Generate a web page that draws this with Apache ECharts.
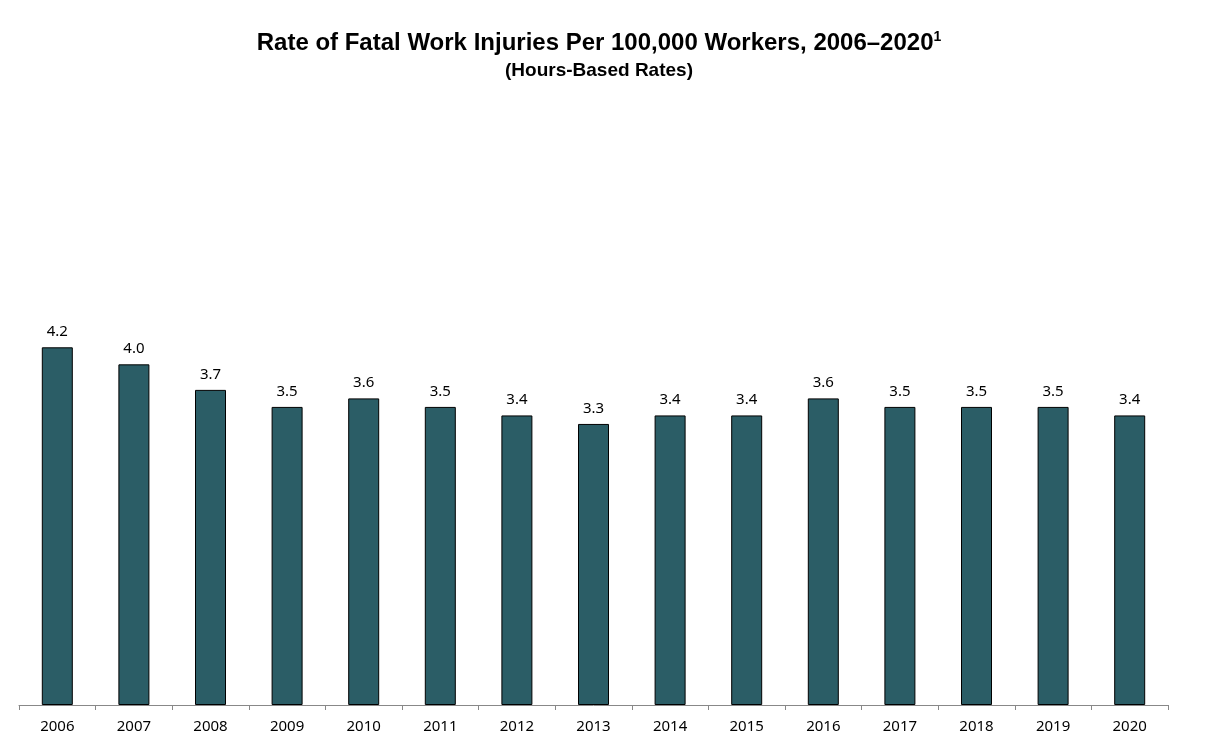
<!DOCTYPE html>
<html><head><meta charset="utf-8">
<script src="https://cdn.jsdelivr.net/npm/echarts@6/dist/echarts.min.js"></script>
<style>html,body{margin:0;padding:0;background:#fff}#c{width:1206px;height:748px}</style>
</head><body><div id="c"></div>
<script>
const years = ['2006','2007','2008','2009','2010','2011','2012','2013','2014','2015','2016','2017','2018','2019','2020'];
const rates = [4.2,4.0,3.7,3.5,3.6,3.5,3.4,3.3,3.4,3.4,3.6,3.5,3.5,3.5,3.4];
const chart = echarts.init(document.getElementById('c'));
chart.setOption({
  backgroundColor:'#fff',
  animation:false,
  title:{
    text:'Rate of Fatal Work Injuries Per 100,000 Workers, 2006–2020{sup|1}',
    subtext:'(Hours-Based Rates)',
    left:594, textAlign:'center', top:25, itemGap:6,
    textStyle:{fontFamily:'Liberation Sans',fontWeight:'bold',fontSize:24,color:'#000',
      rich:{sup:{fontFamily:'Liberation Sans',fontWeight:'bold',fontSize:14,color:'#000',verticalAlign:'top',padding:[0,0,12,0]}}},
    subtextStyle:{fontFamily:'Liberation Sans',fontWeight:'bold',fontSize:19,color:'#000'}
  },
  grid:{left:19,right:38,top:194,bottom:43},
  xAxis:{type:'category',data:years,
    axisLine:{lineStyle:{color:'#888',width:1}},
    axisTick:{show:true,length:5,lineStyle:{color:'#888'}},
    axisLabel:{color:'#000',fontFamily:'Noto Sans',fontSize:15,margin:14}},
  yAxis:{type:'value',min:0,max:6,show:false,splitLine:{show:false}},
  series:[{type:'bar',data:rates,barWidth:31,
    itemStyle:{color:'#2b5d66',borderColor:'#000',borderWidth:1},
    label:{show:true,position:'top',distance:8,color:'#000',fontFamily:'Noto Sans',fontSize:15,
      formatter:p=>p.value.toFixed(1)}}]
});
</script></body></html>
